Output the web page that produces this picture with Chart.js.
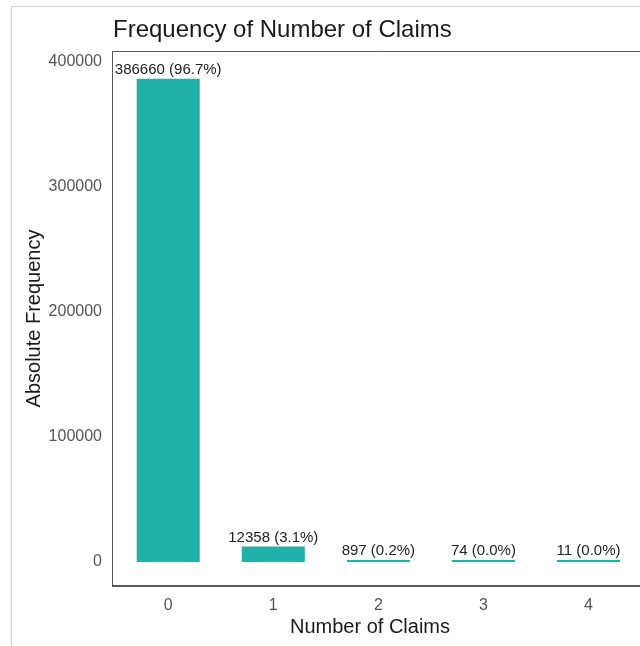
<!DOCTYPE html>
<html>
<head>
<meta charset="utf-8">
<script src="https://cdn.jsdelivr.net/npm/chart.js@4"></script>
<style>
  html, body { margin: 0; padding: 0; background: #fff; }
  #wrap { width: 640px; height: 646px; }
</style>
</head>
<body>
<div id="wrap"><canvas id="claimsChart" width="640" height="646"></canvas></div>
<script>
const categories = [0, 1, 2, 3, 4]
const counts = [386660, 12358, 897, 74, 11]
const yTicks = [0, 100000, 200000, 300000, 400000]

const total = counts.reduce((a, b) => a + b, 0)
const FONT = "'Liberation Sans', Arial, sans-serif"
const TEAL = '#20b2aa'

// title, axis titles, panel border and the outer frame
const frame = {
  id: 'frame',
  beforeDatasetsDraw(chart) {
    const { ctx, chartArea: a } = chart
    ctx.save()
    ctx.strokeStyle = '#cfcfcf'
    ctx.lineWidth = 1
    ctx.beginPath()
    ctx.moveTo(11.5, 646)
    ctx.lineTo(11.5, 6.5)
    ctx.lineTo(640, 6.5)
    ctx.stroke()

    ctx.strokeStyle = '#555'
    ctx.beginPath()
    ctx.moveTo(640, a.top + 0.5)
    ctx.lineTo(a.left + 0.5, a.top + 0.5)
    ctx.lineTo(a.left + 0.5, a.bottom)
    ctx.stroke()
    ctx.strokeStyle = '#222'
    ctx.lineWidth = 1.5
    ctx.beginPath()
    ctx.moveTo(a.left, a.bottom)
    ctx.lineTo(640, a.bottom)
    ctx.stroke()

    ctx.fillStyle = '#1a1a1a'
    ctx.font = '24px ' + FONT
    ctx.textAlign = 'left'
    ctx.textBaseline = 'alphabetic'
    ctx.fillText('Frequency of Number of Claims', a.left + 1, 37)

    ctx.font = '20px ' + FONT
    ctx.textAlign = 'center'
    ctx.fillText('Number of Claims', 370, 633)

    ctx.translate(40, (a.top + a.bottom) / 2)
    ctx.rotate(-Math.PI / 2)
    ctx.fillText('Absolute Frequency', 0, 0)
    ctx.restore()
  }
}

// count and share printed above each bar
const barLabels = {
  id: 'barLabels',
  afterDatasetsDraw(chart) {
    const { ctx } = chart
    const meta = chart.getDatasetMeta(0)
    ctx.save()
    ctx.fillStyle = '#222'
    ctx.font = '15px ' + FONT
    ctx.textAlign = 'center'
    ctx.textBaseline = 'alphabetic'
    meta.data.forEach((bar, i) => {
      const pct = (counts[i] / total * 100).toFixed(1)
      ctx.fillText(counts[i] + ' (' + pct + '%)', bar.x, bar.y - 5)
    })
    ctx.restore()
  }
}

const data = {
  datasets: [{
    label: 'Claims',
    data: categories.map((c, i) => ({ x: c, y: counts[i] })),
    backgroundColor: TEAL,
    borderWidth: 0,
    categoryPercentage: 1,
    barPercentage: 0.6,
    minBarLength: 2
  }]
}

const config = {
  type: 'bar',
  data: data,
  options: {
    responsive: false,
    animation: false,
    layout: { padding: { top: 51, left: 0, right: 0, bottom: 0 } },
    plugins: {
      legend: { display: false },
      title: { display: false },
      tooltip: { enabled: false }
    },
    scales: {
      x: {
        type: 'linear',
        offset: false,
        min: -0.535,
        max: 4.49,
        grid: { display: false, drawTicks: false, offset: false },
        border: { display: false },
        afterFit: s => { s.height = 60 },
        afterBuildTicks: s => { s.ticks = categories.map(v => ({ value: v })) },
        ticks: {
          padding: 10,
          color: '#555',
          font: { family: FONT, size: 16 },
          callback: v => String(v)
        }
      },
      y: {
        min: -19200,
        max: 408800,
        grid: { display: false, drawTicks: false },
        border: { display: false },
        afterFit: s => { s.width = 112 },
        afterBuildTicks: s => { s.ticks = yTicks.map(v => ({ value: v })) },
        ticks: {
          padding: 10,
          color: '#555',
          font: { family: FONT, size: 16 },
          callback: v => String(v)
        }
      }
    }
  },
  plugins: [frame, barLabels]
}

new Chart(document.querySelector('#claimsChart'), config)
</script>
</body>
</html>
